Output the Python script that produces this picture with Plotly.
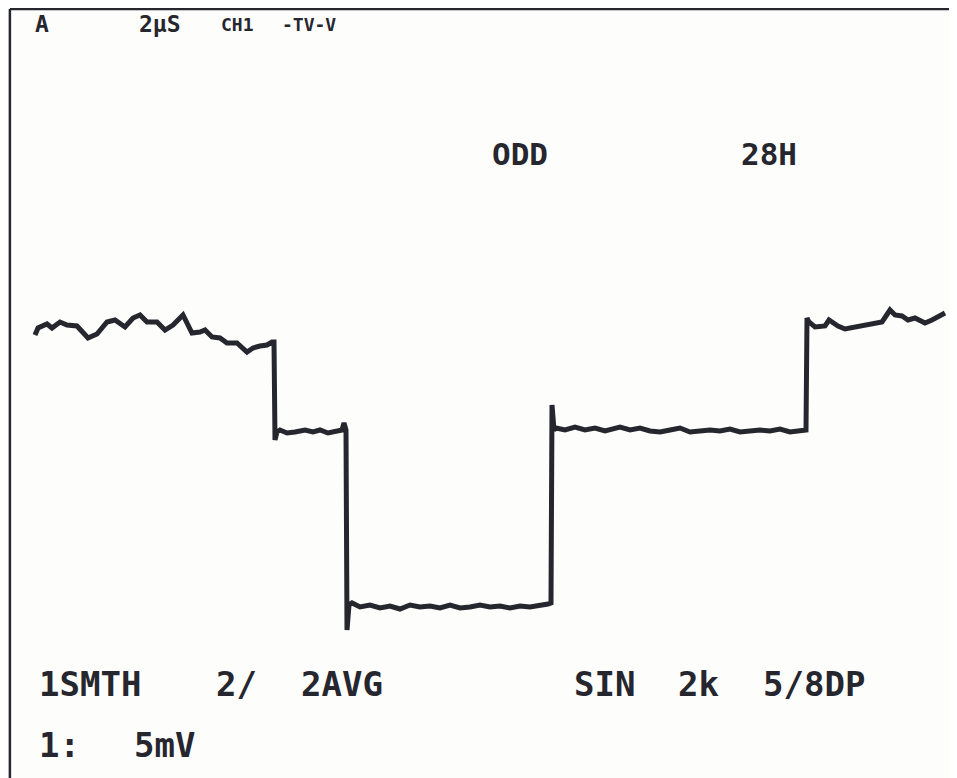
import plotly.graph_objects as go

# ---- trace data (sample index, mV) ----
samples = [0, 3, 12, 17, 25, 32, 42, 47, 53, 62, 72, 80, 90, 98, 105, 112, 122, 130, 138, 148,
           157, 165, 170, 177, 185, 192, 202, 212, 218, 225, 232, 237, 239, 240, 242,
           245, 252, 260, 270, 278, 285, 293, 300, 307, 309, 311, 312, 314,
           317, 325, 335, 345, 355, 365, 375, 385, 395, 405, 415, 425, 435, 445, 455, 465,
           475, 485, 495, 505, 513, 516, 517, 519,
           521, 530, 540, 550, 560, 570, 580, 585, 595, 605, 615, 625, 635, 645, 655, 665,
           675, 685, 695, 705, 715, 725, 735, 745, 755, 765, 769, 771, 772, 774,
           780, 790, 794, 803, 810, 820, 830, 840, 847, 855, 860, 867, 873, 880, 890, 897, 905, 910]
millivolts = [13.6, 13.95, 14.15, 13.95, 14.25, 14.1, 14.05, 13.75, 13.45, 13.65, 14.25, 14.35, 14.0, 14.45,
              14.6, 14.25, 14.25, 13.85, 14.1, 14.6, 13.7, 13.75, 13.85, 13.5, 13.45, 13.2, 13.2, 12.75,
              12.95, 13.05, 13.1, 13.25, 13.25, 8.35, 8.75,
              8.85, 8.7, 8.75, 8.85, 8.75, 8.85, 8.7, 8.75, 8.85, 9.2, 8.85, -1.15, 0.1,
              0.2, 0.0, 0.1, -0.05, 0.05, -0.1, 0.1, 0.0, 0.05, -0.05, 0.1, -0.05, 0.0, 0.1, 0.0, 0.05,
              -0.05, 0.05, 0.0, 0.05, 0.15, 0.2, 10.1, 8.85,
              8.95, 8.85, 9.0, 8.85, 8.95, 8.8, 8.9, 9.0, 8.85, 8.95, 8.8, 8.75, 8.85, 8.95, 8.75, 8.8,
              8.85, 8.8, 8.9, 8.75, 8.8, 8.85, 8.8, 8.9, 8.75, 8.8, 8.85, 8.85, 14.45, 14.25,
              14.0, 14.05, 14.35, 14.05, 13.9, 14.0, 14.1, 14.15, 14.25, 14.85, 14.6, 14.55, 14.35, 14.45,
              14.2, 14.35, 14.55, 14.7]

# ---- screen readout labels ----
top_labels = ["A", "2µS"]
top_small_labels = ["CH1", "-TV-V"]
mid_labels = ["ODD", "28H"]
bottom_labels = ["1SMTH", "2/", "2AVG", "SIN", "2k", "5/8DP"]
scale_labels = ["1:", "5mV"]

INK = "#26262e"
FONT = "DejaVu Sans Mono"

# the page body has an 8px margin; the figure covers the rest of the 957x778 window
OFF = 8
W, H = 957 - OFF, 778 - OFF

fig = go.Figure()
fig.add_trace(go.Scatter(
    x=samples, y=millivolts, mode="lines",
    line=dict(color=INK, width=5, shape="linear"),
    hoverinfo="skip", showlegend=False,
))


def ann(text, px, py, size):
    return dict(text="<b>" + text + "</b>", x=(px - OFF) / W, y=1 - (py - OFF) / H,
                xref="paper", yref="paper", xanchor="left", yanchor="middle", showarrow=False,
                font=dict(family=FONT, size=size, color=INK))


annotations = []
for t, px in zip(top_labels, [33, 137]):
    annotations.append(ann(t, px, 24, 23))
for t, px in zip(top_small_labels, [219, 280]):
    annotations.append(ann(t, px, 24, 18))
for t, px in zip(mid_labels, [490, 739]):
    annotations.append(ann(t, px, 154, 31))
for t, px in zip(bottom_labels, [37, 214, 299, 572, 676, 761]):
    annotations.append(ann(t, px, 684, 34))
for t, px in zip(scale_labels, [37, 132]):
    annotations.append(ann(t, px, 745, 34))

ytop = 1 - (9 - OFF) / H
xleft = 0.002
shapes = [
    dict(type="line", xref="paper", yref="paper", x0=xleft, x1=1, y0=ytop, y1=ytop,
         line=dict(color=INK, width=2.5)),
    dict(type="line", xref="paper", yref="paper", x0=xleft, x1=xleft, y0=0, y1=ytop,
         line=dict(color=INK, width=2.5)),
]

fig.update_layout(
    width=W, height=H,
    margin=dict(l=0, r=0, t=0, b=0),
    paper_bgcolor="#fdfdfc", plot_bgcolor="#fdfdfc",
    xaxis=dict(range=[-27, 922], visible=False, fixedrange=True),
    yaxis=dict(range=[-8.55, 29.95], visible=False, fixedrange=True),
    annotations=annotations, shapes=shapes,
)

fig.write_html("out.html")
